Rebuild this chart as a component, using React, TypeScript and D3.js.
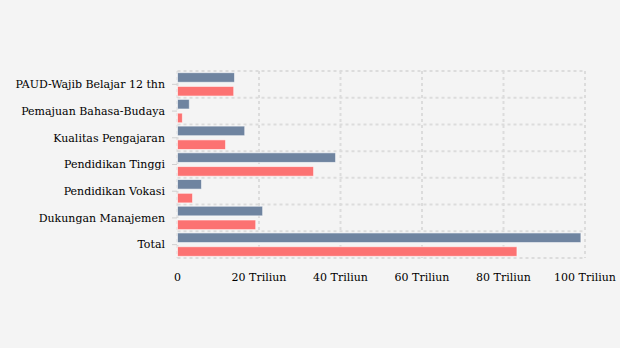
import React from "react";
import * as d3 from "d3";

const categories = [
  "PAUD-Wajib Belajar 12 thn",
  "Pemajuan Bahasa-Budaya",
  "Kualitas Pengajaran",
  "Pendidikan Tinggi",
  "Pendidikan Vokasi",
  "Dukungan Manajemen",
  "Total",
];
const seriesNames = ["A", "B"];
const seriesA = [14.0, 2.9, 16.5, 38.8, 5.9, 20.9, 99.0];
const seriesB = [13.8, 1.2, 11.8, 33.4, 3.7, 19.2, 83.3];
const xTicks = [0, 20, 40, 60, 80, 100];
const xTickLabels = ["0", "20 Triliun", "40 Triliun", "60 Triliun", "80 Triliun", "100 Triliun"];
const colors = ["#6f84a0", "#fc7272"];

export default function App() {
  const W = 620, H = 348;
  const left = 177.5, right = 585, top = 71, bottom = 258;
  const x = d3.scaleLinear().domain([0, 100]).range([left, right]);
  const y = d3.scaleBand<string>().domain(categories).range([top, bottom]).padding(0);
  const ys = d3.scaleBand<string>().domain(seriesNames).range([0, y.bandwidth()]).paddingInner(0.3).paddingOuter(0.12);
  const series = [seriesA, seriesB];
  const font = "'DejaVu Serif', serif";
  const hLines = [...categories.map((c) => y(c) as number), bottom];
  return (
    <svg width={W} height={H} style={{ position: "absolute", left: 0, top: 0, background: "#f4f4f4" }}>
      <rect width={W} height={H} fill="#f4f4f4" />
      {hLines.map((v, i) => (
        <line key={"h" + i} x1={left} x2={right} y1={v} y2={v} stroke="#dcdcdc" strokeWidth={2} strokeDasharray="3,3" />
      ))}
      {xTicks.map((t, i) => (
        <line key={"v" + i} x1={x(t)} x2={x(t)} y1={top} y2={bottom} stroke="#dcdcdc" strokeWidth={2} strokeDasharray="3,3" />
      ))}
      {categories.map((c, i) => (
        <g key={c}>
          {series.map((s, j) => (
            <rect
              key={j}
              x={x(0)}
              y={(y(c) as number) + (ys(seriesNames[j]) as number)}
              width={x(s[i]) - x(0)}
              height={ys.bandwidth()}
              fill={colors[j]}
              stroke="rgba(255,255,255,0.6)"
              strokeWidth={1}
            />
          ))}
          <line x1={172} x2={177} y1={(y(c) as number) + y.bandwidth() / 2} y2={(y(c) as number) + y.bandwidth() / 2} stroke="#d0d0d0" strokeWidth={1} />
          <text
            x={165}
            y={(y(c) as number) + y.bandwidth() / 2}
            dy="0.35em"
            textAnchor="end"
            fontFamily={font}
            fontSize={11}
            fill="#000"
          >
            {c}
          </text>
        </g>
      ))}
      {xTicks.map((t, i) => (
        <text key={"t" + i} x={x(t)} y={277} dy="0.35em" textAnchor="middle" fontFamily={font} fontSize={11} fill="#000">
          {xTickLabels[i]}
        </text>
      ))}
    </svg>
  );
}
